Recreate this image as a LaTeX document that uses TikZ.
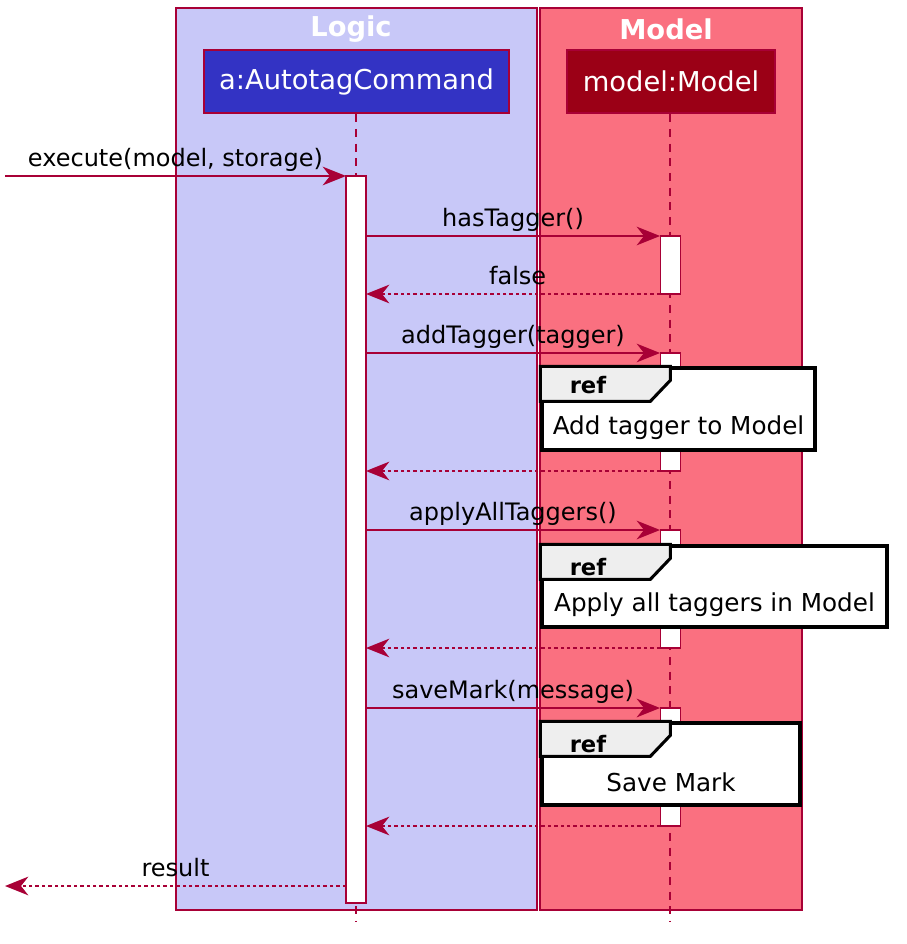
\documentclass[tikz,border=0pt]{standalone}
\usepackage{fontspec}
\setmainfont{DejaVu Sans}
\usetikzlibrary{arrows.meta}
\definecolor{crim}{HTML}{A80036}
\definecolor{logicfill}{HTML}{C8C8F8}
\definecolor{modelfill}{HTML}{FA7080}
\definecolor{pafill}{HTML}{3333C4}
\definecolor{pmfill}{HTML}{9B0016}
\definecolor{tabfill}{HTML}{EEEEEE}
\tikzset{
  msgfont/.style={font=\fontsize{18}{20}\selectfont},
  msg/.style={draw=crim, line width=1.45pt, -{Stealth[length=17.5pt,width=14pt,inset=5.5pt]}},
  ret/.style={msg, dash pattern=on 2.6pt off 2.2pt},
  lbl/.style={msgfont, anchor=base, yshift=7pt, inner sep=0pt, text=black},
  life/.style={draw=crim, line width=1.35pt, dash pattern=on 6pt off 5pt},
  act/.style={draw=crim, fill=white, line width=1.45pt, minimum width=15pt, inner sep=0pt},
  frame/.style={draw=crim, line width=1.2pt},
  frametitle/.style={font=\fontsize{20.5}{22}\selectfont\bfseries, text=white, inner sep=0pt},
  part/.style={draw=crim, line width=1.8pt, text=white, font=\fontsize{20.5}{22}\selectfont, inner sep=0pt, minimum height=47.25pt},
  refbox/.style={draw=black, fill=white, line width=2.5pt, inner sep=0pt},
  reftab/.style={draw=black, fill=tabfill, line width=2.3pt, line join=miter},
  reflabel/.style={font=\fontsize{17}{19}\selectfont\bfseries, inner sep=0pt},
  reftext/.style={font=\fontsize{18.5}{20}\selectfont, inner sep=0pt},
}
\begin{document}
\begin{tikzpicture}[x=0.75pt,y=-0.75pt]
\useasboundingbox (0,0) rectangle (906,944);
\fill[white] (0,0) rectangle (906,944);
% frames
\filldraw[frame, fill=logicfill] (176,8) rectangle (537,910);
\filldraw[frame, fill=modelfill] (540,8) rectangle (802,910);
\node[frametitle] (tLogic) at (351,29) {Logic};
\node[frametitle] (tModel) at (666,29) {Model};
% participants
\node[part, fill=pafill, minimum width=228.75pt] (pa) at (356.5,81.5) {a:AutotagCommand};
\node[part, fill=pmfill, minimum width=156pt] (pm) at (671,81.5) {model:Model};
% lifelines
\coordinate (la) at (356,921);
\coordinate (lm) at (670,921);
\draw[life] (pa.south -| la) -- (la);
\draw[life] (pm.south -| lm) -- (lm);
% activations
\node[act, minimum height=545.25pt] (actA) at (356,539.5) {};
\node[act, minimum height=43.5pt] (actM1) at (670.5,265) {};
\node[act, minimum height=88.5pt] (actM2) at (670.5,412) {};
\node[act, minimum height=88.5pt] (actM3) at (670.5,589) {};
\node[act, minimum height=88.5pt] (actM4) at (670.5,767) {};
% ref boxes
\node[refbox, minimum width=204.75pt, minimum height=61.5pt] (r1) at (678.5,409) {};
\draw[reftab] (r1.north west) -- ++(130,0) -- ++(0,14) -- ++(-20,21) -- ++(-110,0) -- cycle;
\node[reflabel] (r1l) at (588,385) {ref};
\node[reftext] (r1t) at (678.5,428) {Add tagger to Model};
\node[refbox, minimum width=258.75pt, minimum height=60.75pt] (r2) at (714.5,586.5) {};
\draw[reftab] (r2.north west) -- ++(130,0) -- ++(0,14) -- ++(-20,21) -- ++(-110,0) -- cycle;
\node[reflabel] (r2l) at (588,567) {ref};
\node[reftext] (r2t) at (714.5,605) {Apply all taggers in Model};
\node[refbox, minimum width=193.5pt, minimum height=61.5pt] (r3) at (671,764) {};
\draw[reftab] (r3.north west) -- ++(130,0) -- ++(0,14) -- ++(-20,21) -- ++(-110,0) -- cycle;
\node[reflabel] (r3l) at (588,744) {ref};
\node[reftext] (r3t) at (671,782) {Save Mark};
% messages
\coordinate (m0s) at (5,176);    \coordinate (m0e) at (346,176);
\coordinate (m1s) at (366,236);  \coordinate (m1e) at (660,236);
\coordinate (m2s) at (660,294);  \coordinate (m2e) at (366,294);
\coordinate (m3s) at (366,353);  \coordinate (m3e) at (660,353);
\coordinate (m4s) at (660,471);  \coordinate (m4e) at (366,471);
\coordinate (m5s) at (366,530);  \coordinate (m5e) at (660,530);
\coordinate (m6s) at (660,648);  \coordinate (m6e) at (366,648);
\coordinate (m7s) at (366,708);  \coordinate (m7e) at (660,708);
\coordinate (m8s) at (660,826);  \coordinate (m8e) at (366,826);
\coordinate (m9s) at (346,886);  \coordinate (m9e) at (5,886);
\draw[msg] (m0s) -- node[lbl, midway] (l0) {execute(model, storage)} (m0e);
\draw[msg] (m1s) -- node[lbl, midway] (l1) {hasTagger()} (m1e);
\draw[ret] (m2s) -- node[lbl, midway, xshift=3.5pt] (l2) {false} (m2e);
\draw[msg] (m3s) -- node[lbl, midway] (l3) {addTagger(tagger)} (m3e);
\draw[ret] (m4s) -- (m4e);
\draw[msg] (m5s) -- node[lbl, midway] (l5) {applyAllTaggers()} (m5e);
\draw[ret] (m6s) -- (m6e);
\draw[msg] (m7s) -- node[lbl, midway] (l7) {saveMark(message)} (m7e);
\draw[ret] (m8s) -- (m8e);
\draw[ret] (m9s) -- node[lbl, midway] (l9) {result} (m9e);
\end{tikzpicture}
\end{document}
